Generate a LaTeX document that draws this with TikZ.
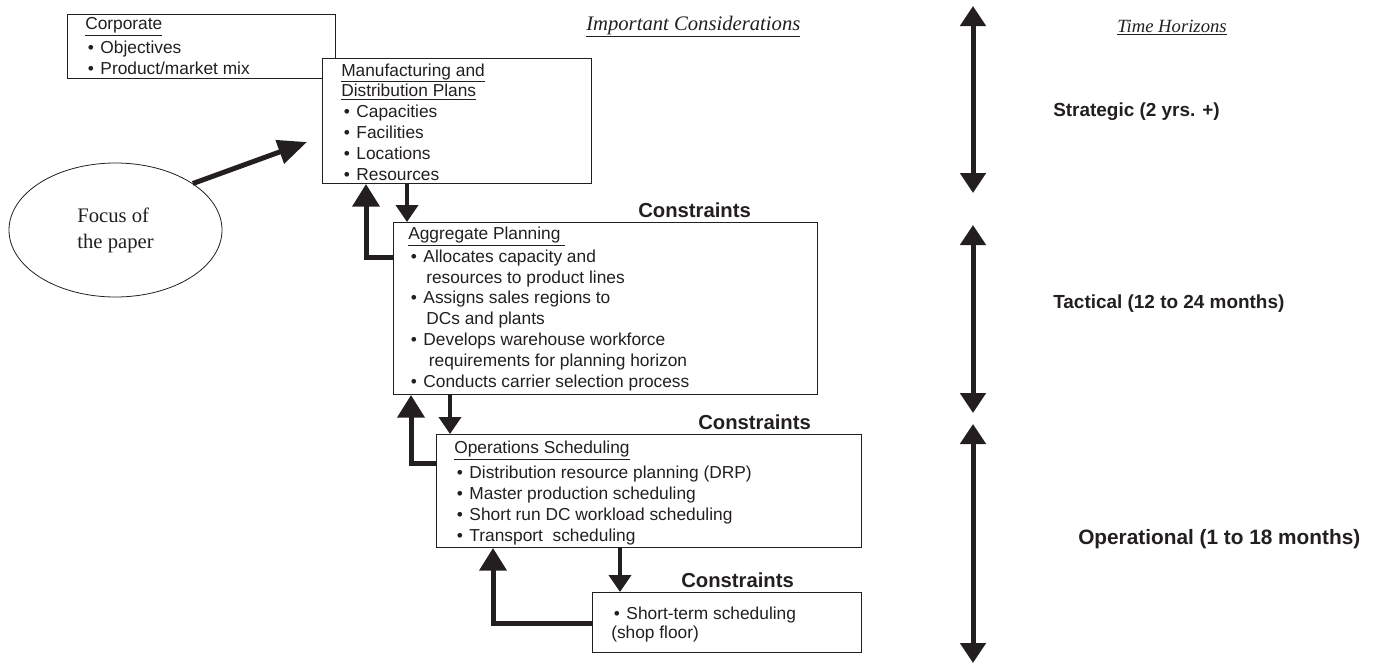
\documentclass[tikz,border=0pt]{standalone}
\usepackage{fontspec}
\setmainfont{Liberation Serif}
\setsansfont{Liberation Sans}
\usetikzlibrary{arrows.meta,calc,shapes.geometric}
\definecolor{ink}{RGB}{35,31,32}
\newcommand\bodyfont{\sffamily\fontsize{13}{15.6}\selectfont}
\newcommand\itm{\hspace*{2pt}\makebox[9.4pt][l]{\textbullet}}
\newcommand\cont{\hspace*{13.5pt}}
\begin{document}
\begin{tikzpicture}[x=0.75pt, y=-0.75pt, color=ink,
  planbox/.style={draw=ink, fill=white, line width=0.75pt, inner sep=0pt, anchor=north west},
  boxtext/.style={anchor=base west, inner sep=0pt, align=left, font=\bodyfont},
  constraint/.style={anchor=base west, inner sep=0pt, font=\sffamily\bfseries\fontsize{15.2}{18}\selectfont},
  horizon/.style={anchor=base west, inner sep=0pt, font=\sffamily\bfseries\fontsize{14.2}{17}\selectfont},
  heading/.style={anchor=base west, inner sep=0pt},
  flowdown/.style={line width=3pt, -{Triangle[length=12.75pt, width=16.5pt]}},
  feedback/.style={line width=3.75pt, -{Triangle[length=17pt, width=20pt]}},
  focusarrow/.style={line width=3.75pt, -{Triangle[length=21.75pt, width=18pt]}},
  horizonarrow/.style={line width=3.75pt, {Triangle[length=15pt, width=18.75pt]}-{Triangle[length=15pt, width=18.75pt]}}]
\useasboundingbox (0,0) rectangle (1374,665);

% planning levels (text nodes sit on their last baseline)
\node[planbox, minimum width=201pt, minimum height=48pt] (corp) at (67,14) {};
\node[boxtext] (corp-text) at ($(corp.north west)+(18,60)$) {\underline{Corporate}\\[2.25pt]\itm Objectives\\\itm Product/market mix};

\node[planbox, minimum width=201.75pt, minimum height=93.75pt] (mfg) at (322,58) {};
\node[boxtext] (mfg-text) at ($(mfg.north west)+(19,122)$) {\underline{Manufacturing and}\\\underline{Distribution Plans}\\\itm Capacities\\\itm Facilities\\\itm Locations\\\itm Resources};

\node[planbox, minimum width=318pt, minimum height=129pt] (agg) at (393,222) {};
\node[boxtext] (agg-text) at ($(agg.north west)+(15,165)$) {\underline{Aggregate Planning\ }\\[1.5pt]\itm Allocates capacity and\\\cont resources to product lines\\\itm Assigns sales regions to\\\cont DCs and plants\\\itm Develops warehouse workforce\\\cont\hspace*{2pt}requirements for planning horizon\\\itm Conducts carrier selection process};

\node[planbox, minimum width=318.75pt, minimum height=84.75pt] (ops) at (436,434) {};
\node[boxtext] (ops-text) at ($(ops.north west)+(18,107)$) {\underline{Operations Scheduling}\\[3pt]\itm Distribution resource planning (DRP)\\\itm Master production scheduling\\\itm Short run DC workload scheduling\\\itm Transport\ \ scheduling};

\node[planbox, minimum width=201.75pt, minimum height=45pt] (short) at (592,592) {};
\node[boxtext] (short-text) at ($(short.north west)+(19,46)$) {\itm Short-term scheduling\\[-1.5pt](shop floor)};

% constraints
\node[constraint] (agg-cons) at ($(agg.north west)+(245,-5)$) {Constraints};
\node[constraint] (ops-cons) at ($(ops.north west)+(262,-5)$) {Constraints};
\node[constraint] (short-cons) at ($(short.north west)+(89,-5)$) {Constraints};

% column headings
\node[heading, font=\rmfamily\itshape\fontsize{15.5}{18}\selectfont] (considerations) at (586,30) {\underline{Important Considerations}};
\node[heading, font=\rmfamily\itshape\fontsize{14}{17}\selectfont] (horizons) at (1117,32) {\underline{Time Horizons}};

% focus
\node[ellipse, draw=ink, line width=0.6pt, minimum width=159.75pt, minimum height=100.5pt, inner sep=0pt, align=left, font=\rmfamily\fontsize{15.5}{19.5}\selectfont] (focus) at (115.5,230) {Focus of\\the paper};
\coordinate (focus-tip) at (307,142);
\draw[focusarrow] (focus.31) -- (focus-tip);

% flows down and feedback up
\draw[flowdown] ($(mfg.south west)+(85,0)$) -- ($(agg.north west)+(14,0)$);
\draw[flowdown] ($(agg.south west)+(57,0)$) -- ($(ops.north west)+(14,0)$);
\draw[flowdown] ($(ops.south west)+(184,0)$) -- ($(short.north west)+(28,0)$);

\draw[feedback] ($(agg.north west)+(0,35)$) -| ($(mfg.south west)+(44,0)$);
\draw[feedback] ($(ops.north west)+(0,29)$) -| ($(agg.south west)+(18,0)$);
\draw[feedback] ($(short.north west)+(0,31)$) -| ($(ops.south west)+(57,0)$);

% time horizons
\coordinate (strat-top) at (973,6);
\coordinate (strat-bot) at (973,193);
\coordinate (tact-top) at (973,225);
\coordinate (tact-bot) at (973,413);
\coordinate (oper-top) at (973,424);
\coordinate (oper-bot) at (973,663);
\draw[horizonarrow] (strat-top) -- (strat-bot);
\draw[horizonarrow] (tact-top) -- (tact-bot);
\draw[horizonarrow] (oper-top) -- (oper-bot);

\node[horizon] (strategic) at (1053,116) {Strategic (2 yrs. +)};
\node[horizon] (tactical) at (1053,308) {Tactical (12 to 24 months)};
\node[horizon, font=\sffamily\bfseries\fontsize{15.6}{18}\selectfont] (operational) at (1078,544) {Operational (1 to 18 months)};
\end{tikzpicture}
\end{document}
